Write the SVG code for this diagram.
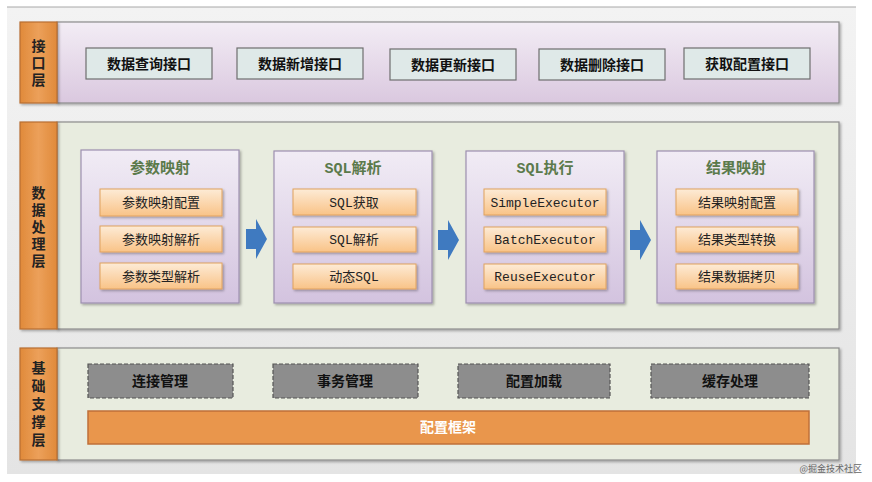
<svg xmlns="http://www.w3.org/2000/svg" width="872" height="482" viewBox="0 0 872 482">
<defs>
<linearGradient id="bg" x1="0" y1="0" x2="0" y2="1"><stop offset="0" stop-color="#f3f3f3"/><stop offset="1" stop-color="#e4e4e4"/></linearGradient>
<linearGradient id="purp" x1="0" y1="0" x2="0" y2="1"><stop offset="0" stop-color="#f3edf5"/><stop offset="1" stop-color="#dac8df"/></linearGradient>
<linearGradient id="grp" x1="0" y1="0" x2="0" y2="1"><stop offset="0" stop-color="#f1ecf5"/><stop offset="1" stop-color="#d3c3df"/></linearGradient>
<linearGradient id="item" x1="0" y1="0" x2="0" y2="1"><stop offset="0" stop-color="#fdebd6"/><stop offset="1" stop-color="#f9c387"/></linearGradient>
<linearGradient id="lbl" x1="0" y1="0" x2="1" y2="0"><stop offset="0" stop-color="#e08a3a"/><stop offset="0.5" stop-color="#eca05a"/><stop offset="1" stop-color="#e08a3a"/></linearGradient>
<filter id="sh" x="-10%" y="-10%" width="130%" height="130%"><feDropShadow dx="1.5" dy="1.5" stdDeviation="1.2" flood-color="#000" flood-opacity="0.3"/></filter>
<path id="arrow" d="M0,-10 H10 V-20 L21,0 L10,20 V10 H0 Z"/>
</defs>
<style>
.lbl{fill:url(#lbl);stroke:#b86f32;stroke-width:1.2}
.lt{font-family:"Noto Sans CJK SC",sans-serif;font-weight:bold;font-size:14px;fill:#222;text-anchor:middle;writing-mode:vertical-rl;letter-spacing:3px}
.iface{fill:#dfe9e8;stroke:#6e6e6e;stroke-width:1.2}
.it{font-family:"Noto Sans CJK SC",sans-serif;font-weight:bold;font-size:14px;fill:#111;text-anchor:middle}
.grp{fill:url(#grp);stroke:#9d8fb0;stroke-width:1.2}
.gt{font-family:"Liberation Mono","Noto Sans CJK SC",monospace;font-weight:bold;font-size:15px;fill:#5b7a4b;text-anchor:middle}
.item{fill:url(#item);stroke:#e0a25e;stroke-width:1}
.st{font-family:"Liberation Mono","Noto Sans CJK SC",monospace;font-size:13px;fill:#222;text-anchor:middle}
.dash{fill:#8d8d8d;stroke:#555;stroke-width:1.2;stroke-dasharray:4 2}
.dt{font-family:"Noto Sans CJK SC",sans-serif;font-weight:bold;font-size:14px;fill:#111;text-anchor:middle}
.arr{fill:#3f7ac0}
</style>
<rect x="7" y="7" width="849" height="467" fill="url(#bg)"/>
<line x1="7" y1="7" x2="856" y2="7" stroke="#a8a8a8" stroke-width="1"/>

<g id="layer-interface">
<rect x="57" y="22" width="782" height="81" fill="url(#purp)" stroke="#8c8c8c" stroke-width="1.2" filter="url(#sh)"/>
<rect class="lbl" x="20" y="22" width="37" height="81" filter="url(#sh)"/>
<text class="lt" x="38.5" y="64">接口层</text>
</g>
<g id="if-query"><rect class="iface" x="86" y="48" width="126" height="31"/><text class="it" x="149" y="69">数据查询接口</text></g>
<g id="if-add"><rect class="iface" x="237" y="48" width="126" height="31"/><text class="it" x="300" y="69">数据新增接口</text></g>
<g id="if-update"><rect class="iface" x="390" y="49" width="126" height="31"/><text class="it" x="453" y="70">数据更新接口</text></g>
<g id="if-delete"><rect class="iface" x="539" y="49" width="126" height="31"/><text class="it" x="602" y="70">数据删除接口</text></g>
<g id="if-config"><rect class="iface" x="684" y="48" width="126" height="31"/><text class="it" x="747" y="69">获取配置接口</text></g>

<g id="layer-data">
<rect x="57" y="122" width="782" height="207" fill="#e8ecdf" stroke="#8c8c8c" stroke-width="1.2" filter="url(#sh)"/>
<rect class="lbl" x="20" y="122" width="37" height="207" filter="url(#sh)"/>
<text class="lt" x="38.5" y="228">数据处理层</text>
</g>

<g id="grp-param">
<rect class="grp" x="81" y="150" width="158" height="153" filter="url(#sh)"/>
<text class="gt" x="160" y="173">参数映射</text>
<rect class="item" x="100" y="189" width="122" height="27" filter="url(#sh)"/><text class="st" x="161" y="207">参数映射配置</text>
<rect class="item" x="100" y="226" width="122" height="26" filter="url(#sh)"/><text class="st" x="161" y="244">参数映射解析</text>
<rect class="item" x="100" y="263" width="122" height="26" filter="url(#sh)"/><text class="st" x="161" y="281">参数类型解析</text>
</g>
<g id="grp-sqlparse">
<rect class="grp" x="274" y="151" width="158" height="152" filter="url(#sh)"/>
<text class="gt" x="353" y="173">SQL解析</text>
<rect class="item" x="293" y="189" width="123" height="26" filter="url(#sh)"/><text class="st" x="354" y="207">SQL获取</text>
<rect class="item" x="293" y="227" width="123" height="25" filter="url(#sh)"/><text class="st" x="354" y="244">SQL解析</text>
<rect class="item" x="293" y="264" width="123" height="25" filter="url(#sh)"/><text class="st" x="354" y="281">动态SQL</text>
</g>
<g id="grp-sqlexec">
<rect class="grp" x="466" y="151" width="158" height="152" filter="url(#sh)"/>
<text class="gt" x="545" y="173">SQL执行</text>
<rect class="item" x="484" y="189" width="122" height="26" filter="url(#sh)"/><text class="st" x="545" y="207" font-size="12">SimpleExecutor</text>
<rect class="item" x="484" y="227" width="122" height="25" filter="url(#sh)"/><text class="st" x="545" y="244" font-size="12">BatchExecutor</text>
<rect class="item" x="484" y="264" width="122" height="25" filter="url(#sh)"/><text class="st" x="545" y="281" font-size="12">ReuseExecutor</text>
</g>
<g id="grp-result">
<rect class="grp" x="657" y="151" width="157" height="152" filter="url(#sh)"/>
<text class="gt" x="736" y="173">结果映射</text>
<rect class="item" x="676" y="189" width="122" height="26" filter="url(#sh)"/><text class="st" x="737" y="207">结果映射配置</text>
<rect class="item" x="676" y="227" width="122" height="25" filter="url(#sh)"/><text class="st" x="737" y="244">结果类型转换</text>
<rect class="item" x="676" y="264" width="122" height="25" filter="url(#sh)"/><text class="st" x="737" y="281">结果数据拷贝</text>
</g>

<g id="connectors">
<use href="#arrow" class="arr" x="246" y="239"/>
<use href="#arrow" class="arr" x="438" y="240"/>
<use href="#arrow" class="arr" x="630" y="240"/>
</g>

<g id="layer-base">
<rect x="57" y="348" width="782" height="112" fill="#e8ecdf" stroke="#8c8c8c" stroke-width="1.2" filter="url(#sh)"/>
<rect class="lbl" x="20" y="348" width="37" height="112" filter="url(#sh)"/>
<text class="lt" x="38.5" y="406" style="letter-spacing:4px">基础支撑层</text>
</g>
<g id="base-conn"><rect class="dash" x="88" y="364" width="145" height="34"/><text class="dt" x="160" y="386">连接管理</text></g>
<g id="base-tx"><rect class="dash" x="273" y="364" width="145" height="34"/><text class="dt" x="345" y="386">事务管理</text></g>
<g id="base-cfgload"><rect class="dash" x="458" y="364" width="152" height="34"/><text class="dt" x="534" y="386">配置加载</text></g>
<g id="base-cache"><rect class="dash" x="651" y="364" width="158" height="34"/><text class="dt" x="730" y="386">缓存处理</text></g>
<g id="base-framework"><rect x="88" y="411" width="721" height="33" fill="#e9964c" stroke="#bf6f38" stroke-width="1.5"/><text class="dt" x="448" y="432" style="fill:#fff">配置框架</text></g>

<text x="862" y="472" font-family="Noto Sans CJK SC,sans-serif" font-size="9" fill="#666" text-anchor="end">@掘金技术社区</text>
</svg>
